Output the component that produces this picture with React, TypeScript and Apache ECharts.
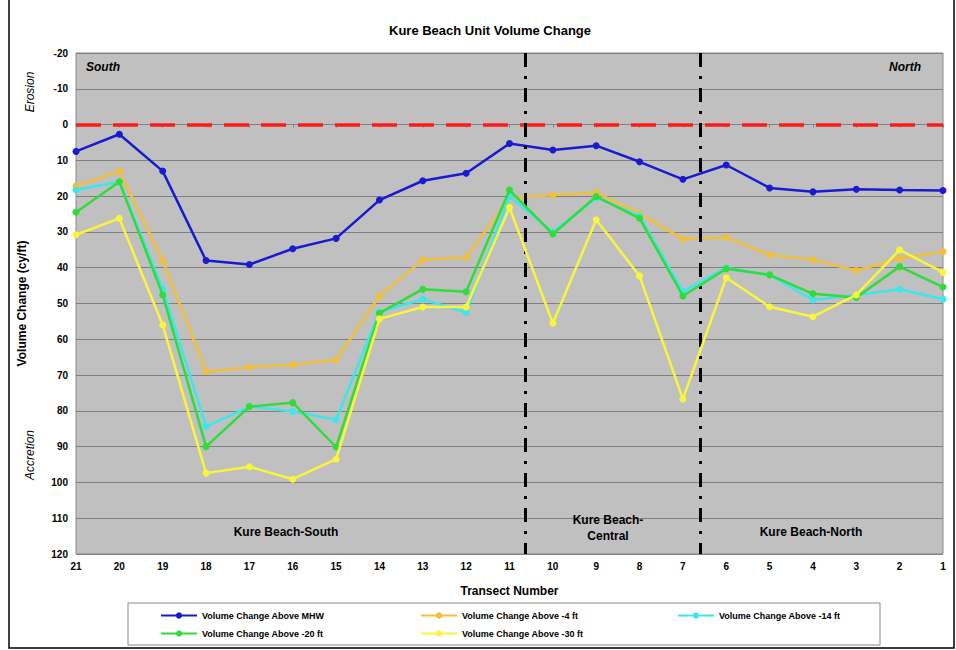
import React, { useEffect, useRef } from "react";
import * as echarts from "echarts";

const transects = ["21", "20", "19", "18", "17", "16", "15", "14", "13", "12", "11", "10", "9", "8", "7", "6", "5", "4", "3", "2", "1"];
const yTicks = [-20, -10, 0, 10, 20, 30, 40, 50, 60, 70, 80, 90, 100, 110, 120];

const mhw = [7.5, 2.7, 13, 38, 39.1, 34.7, 31.8, 21.1, 15.7, 13.6, 5.3, 7.1, 5.9, 10.4, 15.3, 11.3, 17.7, 18.8, 18.1, 18.3, 18.4];
const minus4 = [17.2, 13, 38, 69, 67.8, 67.1, 65.7, 47.9, 37.8, 37.1, 20.5, 19.7, 19, 24.8, 32, 31.5, 36.4, 37.8, 40.8, 37.4, 35.5];
const minus14 = [18.3, 16, 46, 84.4, 78.8, 80.2, 82.5, 52.3, 48.8, 52.5, 20.1, 30, 20.5, 25.5, 46.7, 40, 42, 49, 47.6, 46, 48.8];
const minus20 = [24.5, 16, 47.6, 90, 78.8, 77.7, 90.1, 52.7, 46, 46.7, 18.3, 30.6, 20.1, 26.2, 47.9, 40.3, 42, 47.3, 48.3, 39.7, 45.4];
const minus30 = [30.8, 26.2, 56, 97.4, 95.6, 99.1, 93.5, 54.3, 51, 51, 23.2, 55.5, 26.6, 42.3, 76.7, 42.8, 50.9, 53.7, 47.6, 35, 41.3];

const seriesNames = [
  "Volume Change Above MHW",
  "Volume Change Above -4 ft",
  "Volume Change Above -14 ft",
  "Volume Change Above -20 ft",
  "Volume Change Above -30 ft",
];
const seriesColors = ["#1a1ad0", "#f2bf3a", "#3ee6ec", "#2fdc3a", "#f8f53a"];
const seriesData = [mhw, minus4, minus14, minus20, minus30];

const dividerPositions = [10.36, 14.4];

const FONT = "Liberation Sans, Arial, sans-serif";

export default function App() {
  const ref = useRef<HTMLDivElement>(null);
  useEffect(() => {
    if (!ref.current) return;
    const chart = echarts.init(ref.current, null, { renderer: "svg" });
    const series: any[] = seriesData.map((arr, i) => ({
      name: seriesNames[i],
      type: "line",
      data: arr.map((v, j) => [j, v]),
      symbol: "circle",
      symbolSize: 7,
      lineStyle: { color: seriesColors[i], width: 2.5 },
      itemStyle: { color: seriesColors[i] },
      z: 3 + i,
    }));
    series[0].markLine = {
      silent: true,
      symbol: "none",
      label: { show: false },
      z: 1,
      data: [{ yAxis: 0, lineStyle: { color: "#ff1a1a", width: 3.5, type: [25, 12] } }],
    };
    series[4].markLine = {
      silent: true,
      symbol: "none",
      label: { show: false },
      data: dividerPositions.map((x) => ({
        xAxis: x,
        lineStyle: { color: "#000000", width: 3, type: [14, 9, 3, 9] },
      })),
    };

    const legendLefts = [155, 415, 672, 155, 415];
    const legendTops = [606, 606, 606, 624, 624];
    const legends = seriesNames.map((n, i) => ({
      data: [n],
      left: legendLefts[i],
      top: legendTops[i],
      orient: "horizontal",
      itemWidth: 36,
      itemHeight: 8,
      itemGap: 4,
      selectedMode: false,
      textStyle: { fontFamily: FONT, fontWeight: "bold", fontSize: 9, color: "#000" },
    }));

    chart.setOption({
      animation: false,
      backgroundColor: "#ffffff",
      title: {
        text: "Kure Beach Unit Volume Change",
        left: 485,
        top: 19,
        textAlign: "center",
        textStyle: { fontFamily: FONT, fontWeight: "bold", fontSize: 13, color: "#000" },
      },
      legend: legends,
      grid: {
        left: 76,
        right: 13,
        top: 53,
        bottom: 96,
        show: true,
        backgroundColor: "#c0c0c0",
        borderColor: "#8a8a8a",
        borderWidth: 1,
      },
      xAxis: {
        type: "value",
        min: 0,
        max: transects.length - 1,
        interval: 1,
        name: "Transect Number",
        nameLocation: "middle",
        nameGap: 31,
        nameTextStyle: { fontFamily: FONT, fontWeight: "bold", fontSize: 12, color: "#000" },
        axisLine: { show: true, lineStyle: { color: "#808080" } },
        axisTick: { show: true, length: 3, lineStyle: { color: "#808080" } },
        splitLine: { show: false },
        axisLabel: {
          fontFamily: FONT,
          fontWeight: "bold",
          fontSize: 10,
          color: "#000",
          margin: 7,
          formatter: (v: number) => transects[Math.round(v)] ?? "",
        },
      },
      yAxis: {
        type: "value",
        inverse: true,
        min: -20,
        max: 120,
        interval: 10,
        name: "Volume Change (cy/ft)",
        nameLocation: "middle",
        nameGap: 48,
        nameTextStyle: { fontFamily: FONT, fontWeight: "bold", fontSize: 12, color: "#000" },
        axisLine: { show: false },
        axisTick: { show: false },
        splitLine: { show: true, lineStyle: { color: "#808080", width: 1 } },
        axisLabel: {
          fontFamily: FONT,
          fontWeight: "bold",
          fontSize: 10,
          color: "#000",
          margin: 8,
          formatter: (v: number) => (yTicks.includes(v) ? String(v) : ""),
        },
      },
      graphic: [
        {
          type: "rect",
          shape: { x: 9, y: -2, width: 945, height: 650 },
          style: { fill: "none", stroke: "#000", lineWidth: 1.5 },
          silent: true,
        },
        {
          type: "rect",
          shape: { x: 128, y: 603, width: 752, height: 42 },
          style: { fill: "#fff", stroke: "#888", lineWidth: 1 },
          silent: true,
          z: -1,
        },
        {
          type: "text",
          x: 30,
          y: 92,
          rotation: Math.PI / 2,
          style: { text: "Erosion", fontFamily: FONT, fontStyle: "italic", fontSize: 12, fill: "#000", align: "center", verticalAlign: "middle" },
        },
        {
          type: "text",
          x: 30,
          y: 455,
          rotation: Math.PI / 2,
          style: { text: "Accretion", fontFamily: FONT, fontStyle: "italic", fontSize: 12, fill: "#000", align: "center", verticalAlign: "middle" },
        },
        {
          type: "text",
          x: 86,
          y: 67,
          style: { text: "South", fontFamily: FONT, fontStyle: "italic", fontWeight: "bold", fontSize: 12, fill: "#000", verticalAlign: "middle" },
          z: 10,
        },
        {
          type: "text",
          x: 921,
          y: 67,
          style: { text: "North", fontFamily: FONT, fontStyle: "italic", fontWeight: "bold", fontSize: 12, fill: "#000", align: "right", verticalAlign: "middle" },
          z: 10,
        },
        {
          type: "text",
          x: 286,
          y: 532,
          style: { text: "Kure Beach-South", fontFamily: FONT, fontWeight: "bold", fontSize: 12, fill: "#000", align: "center", verticalAlign: "middle" },
          z: 10,
        },
        {
          type: "text",
          x: 608,
          y: 528,
          style: { text: "Kure Beach-\nCentral", fontFamily: FONT, fontWeight: "bold", fontSize: 12, lineHeight: 16, fill: "#000", align: "center", verticalAlign: "middle" },
          z: 10,
        },
        {
          type: "text",
          x: 811,
          y: 532,
          style: { text: "Kure Beach-North", fontFamily: FONT, fontWeight: "bold", fontSize: 12, fill: "#000", align: "center", verticalAlign: "middle" },
          z: 10,
        },
      ],
      series,
    });
    return () => chart.dispose();
  }, []);
  return <div ref={ref} style={{ width: 956, height: 650, position: "absolute", left: 0, top: 0 }} />;
}
